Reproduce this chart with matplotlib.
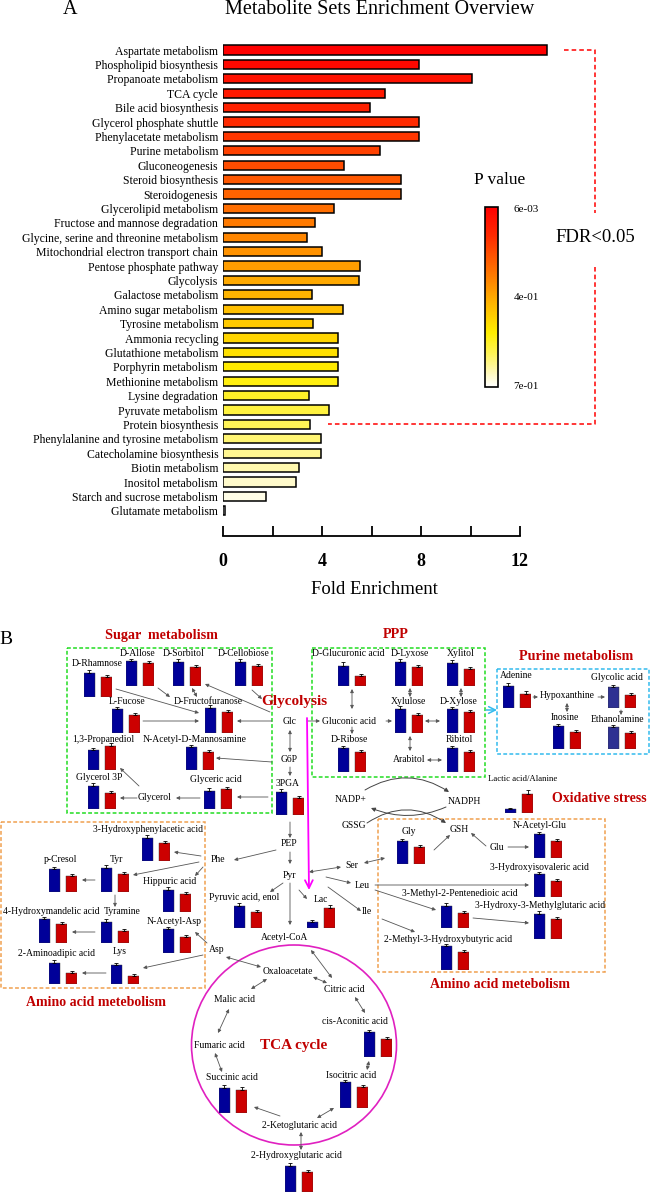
import matplotlib
matplotlib.use("Agg")
import matplotlib.pyplot as plt
from matplotlib.colors import LinearSegmentedColormap, Normalize
from matplotlib.cm import ScalarMappable
from matplotlib.patches import Rectangle, Ellipse, FancyArrowPatch

plt.rcParams["font.family"] = ["Liberation Serif", "DejaVu Serif"]

W, H = 650, 1193

# ---------------- panel A data ----------------
pathways = [
    "Aspartate metabolism", "Phospholipid biosynthesis", "Propanoate metabolism",
    "TCA cycle", "Bile acid biosynthesis", "Glycerol phosphate shuttle",
    "Phenylacetate metabolism", "Purine metabolism", "Gluconeogenesis",
    "Steroid biosynthesis", "Steroidogenesis", "Glycerolipid metabolism",
    "Fructose and mannose degradation", "Glycine, serine and threonine metabolism",
    "Mitochondrial electron transport chain", "Pentose phosphate pathway",
    "Glycolysis", "Galactose metabolism", "Amino sugar metabolism",
    "Tyrosine metabolism", "Ammonia recycling", "Glutathione metabolism",
    "Porphyrin metabolism", "Methionine metabolism", "Lysine degradation",
    "Pyruvate metabolism", "Protein biosynthesis",
    "Phenylalanine and tyrosine metabolism", "Catecholamine biosynthesis",
    "Biotin metabolism", "Inositol metabolism", "Starch and sucrose metabolism",
    "Glutamate metabolism",
]
fold = [13.1, 7.9, 10.06, 6.53, 5.92, 7.91, 7.91, 6.36, 4.88, 7.2, 7.2, 4.48,
        3.7, 3.4, 3.99, 5.55, 5.49, 3.6, 4.83, 3.62, 4.63, 4.63, 4.63, 4.63,
        3.47, 4.29, 3.53, 3.97, 3.97, 3.06, 2.96, 1.72, 0.1]
x_ticks = [0, 2, 4, 6, 8, 10, 12]
x_ticklabels = ["0", "", "4", "", "8", "", "12"]
pval_labels = ["6e-03", "4e-01", "7e-01"]
n_fdr = 27  # first 27 sets have FDR<0.05

# ---------------- panel B data (relative levels, control vs model) ----------------
mets = [
    "D-Rhamnose", "D-Allose", "D-Sorbitol", "D-Cellobiose", "L-Fucose",
    "D-Fructofuranose", "1,3-Propanediol", "N-Acetyl-D-Mannosamine",
    "Glycerol 3P", "Glyceric acid", "3PGA",
    "D-Glucuronic acid", "D-Lyxose", "Xylitol", "Xylulose", "D-Xylose",
    "D-Ribose", "Ribitol",
    "Adenine", "Glycolic acid", "Inosine", "Ethanolamine",
    "Lactic acid/Alanine",
    "Gly", "N-Acetyl-Glu", "3-Hydroxyisovaleric acid",
    "3-Methyl-2-Pentenedioic acid", "3-Hydroxy-3-Methylglutaric acid",
    "2-Methyl-3-Hydroxybutyric acid",
    "Pyruvic acid, enol", "Lac",
    "3-Hydroxyphenylacetic acid", "p-Cresol", "Tyr", "Hippuric acid",
    "Tyramine", "4-Hydroxymandelic acid", "N-Acetyl-Asp",
    "2-Aminoadipic acid", "Lys",
    "cis-Aconitic acid", "Isocitric acid", "Succinic acid",
    "2-Hydroxyglutaric acid",
]
ctrl = [24, 25, 24, 24, 24, 25, 20, 23, 23, 18, 23,
        20, 24, 23, 24, 24, 24, 24,
        22, 21, 23, 22,
        4,
        23, 24, 23, 22, 25, 24,
        22, 6,
        23, 23, 24, 22, 21, 24, 24, 21, 19,
        25, 26, 25, 26]
model = [20, 23, 19, 20, 18, 21, 24, 18, 16, 20, 17,
         10, 19, 17, 18, 21, 20, 20,
         14, 13, 17, 16,
         19,
         17, 17, 16, 15, 20, 18,
         16, 20,
         18, 16, 18, 18, 12, 19, 16, 11, 8,
         18, 21, 23, 20]
ctrl_err = [3, 2, 3, 3, 2, 3, 2, 2, 3, 3, 3,
            4, 3, 3, 3, 2, 2, 2,
            3, 2, 2, 2,
            1,
            2, 2, 2, 3, 3, 2,
            3, 2,
            3, 2, 3, 3, 3, 2, 2, 3, 2,
            2, 2, 3, 3]
model_err = [2, 2, 2, 2, 2, 2, 3, 2, 2, 2, 2,
             2, 2, 2, 2, 2, 2, 2,
             3, 2, 2, 2,
             4,
             2, 2, 2, 2, 2, 2,
             2, 3,
             2, 2, 2, 2, 2, 2, 2, 2, 2,
             2, 2, 3, 2]

# ---------------- layout (pixel positions) ----------------
bar_pos = {
    "D-Rhamnose": (84, 697), "D-Allose": (126, 686), "D-Sorbitol": (173, 686),
    "D-Cellobiose": (235, 686), "L-Fucose": (112, 733), "D-Fructofuranose": (205, 733),
    "1,3-Propanediol": (88, 770), "N-Acetyl-D-Mannosamine": (186, 770),
    "Glycerol 3P": (88, 809), "Glyceric acid": (204, 809), "3PGA": (276, 815),
    "D-Glucuronic acid": (338, 686), "D-Lyxose": (395, 686), "Xylitol": (447, 686),
    "Xylulose": (395, 733), "D-Xylose": (447, 733), "D-Ribose": (338, 772),
    "Ribitol": (447, 772),
    "Adenine": (503, 708), "Glycolic acid": (608, 708), "Inosine": (553, 749),
    "Ethanolamine": (608, 749),
    "Lactic acid/Alanine": (505, 813),
    "Gly": (397, 864), "N-Acetyl-Glu": (534, 858), "3-Hydroxyisovaleric acid": (534, 897),
    "3-Methyl-2-Pentenedioic acid": (441, 928),
    "3-Hydroxy-3-Methylglutaric acid": (534, 939),
    "2-Methyl-3-Hydroxybutyric acid": (441, 970),
    "Pyruvic acid, enol": (234, 928), "Lac": (307, 928),
    "3-Hydroxyphenylacetic acid": (142, 861), "p-Cresol": (49, 892), "Tyr": (101, 892),
    "Hippuric acid": (163, 912), "Tyramine": (101, 943),
    "4-Hydroxymandelic acid": (39, 943), "N-Acetyl-Asp": (163, 953),
    "2-Aminoadipic acid": (49, 984), "Lys": (111, 984),
    "cis-Aconitic acid": (364, 1057), "Isocitric acid": (340, 1108),
    "Succinic acid": (219, 1113), "2-Hydroxyglutaric acid": (285, 1192),
}
label_pos = {
    "D-Rhamnose": (97, 663), "D-Allose": (138, 653), "D-Sorbitol": (184, 653),
    "D-Cellobiose": (244, 653), "L-Fucose": (127, 702), "D-Fructofuranose": (208, 701),
    "1,3-Propanediol": (103, 739), "N-Acetyl-D-Mannosamine": (195, 739),
    "Glycerol 3P": (99, 778), "Glyceric acid": (216, 779), "Glycerol": (155, 798),
    "Glc": (290, 721), "G6P": (289, 760), "3PGA": (288, 783), "PEP": (289, 844),
    "Pyr": (289, 876), "Pyruvic acid, enol": (244, 897), "Lac": (321, 899),
    "Acetyl-CoA": (285, 937), "Asp": (217, 950),
    "D-Glucuronic acid": (348, 654), "D-Lyxose": (410, 654), "Xylitol": (461, 654),
    "Xylulose": (408, 701), "D-Xylose": (459, 701), "Gluconic acid": (349, 721),
    "D-Ribose": (349, 740), "Arabitol": (409, 760), "Ribitol": (459, 740),
    "Adenine": (516, 676), "Hypoxanthine": (567, 696), "Glycolic acid": (617, 678),
    "Inosine": (565, 718), "Ethanolamine": (617, 719),
    "Lactic acid/Alanine": (523, 779), "NADP+": (351, 800), "NADPH": (464, 801),
    "GSSG": (354, 826), "GSH": (459, 829),
    "Gly": (409, 832), "Glu": (497, 847), "N-Acetyl-Glu": (540, 826),
    "3-Hydroxyisovaleric acid": (539, 867), "Ser": (352, 865), "Leu": (362, 886),
    "3-Methyl-2-Pentenedioic acid": (460, 894),
    "3-Hydroxy-3-Methylglutaric acid": (540, 906), "Ile": (367, 912),
    "2-Methyl-3-Hydroxybutyric acid": (448, 939),
    "3-Hydroxyphenylacetic acid": (148, 829), "Phe": (218, 860), "p-Cresol": (61, 860),
    "Tyr": (116, 860), "Hippuric acid": (170, 881), "Tyramine": (122, 912),
    "4-Hydroxymandelic acid": (51, 911), "N-Acetyl-Asp": (174, 922),
    "2-Aminoadipic acid": (57, 953), "Lys": (120, 952),
    "Oxaloacetate": (288, 972), "Citric acid": (344, 990),
    "cis-Aconitic acid": (355, 1022), "Isocitric acid": (351, 1076),
    "2-Ketoglutaric acid": (300, 1125), "Succinic acid": (232, 1078),
    "Fumaric acid": (219, 1045), "Malic acid": (234, 1000),
    "2-Hydroxyglutaric acid": (296, 1156),
}
# (x1, y1, x2, y2, double-headed)
arrows = [
    (116, 689, 199, 713, False), (158, 688, 170, 697, False), (192, 688, 197, 697, True),
    (270, 712, 205, 684, False), (252, 690, 262, 699, False), (143, 721, 199, 721, False),
    (272, 721, 237, 721, False), (272, 762, 216, 758, False), (268, 797, 237, 797, False),
    (200, 798, 176, 798, False), (137, 798, 120, 798, False), (139, 786, 120, 768, False),
    (290, 730, 290, 752, True), (290, 767, 290, 776, False), (290, 822, 290, 838, False),
    (290, 852, 290, 864, False), (290, 883, 290, 925, False), (283, 883, 270, 892, False),
    (299, 890, 307, 899, False), (276, 850, 234, 860, False), (309, 872, 341, 867, True),
    (364, 863, 385, 858, True), (326, 877, 351, 883, False), (375, 885, 529, 885, False),
    (375, 890, 436, 910, False), (328, 887, 361, 911, False), (382, 919, 415, 932, False),
    (473, 918, 529, 923, False), (434, 850, 450, 835, False), (486, 846, 471, 833, False),
    (508, 847, 529, 847, False),
    (307, 721, 320, 721, False), (352, 689, 352, 709, True), (352, 727, 352, 734, False),
    (386, 721, 392, 721, False), (425, 721, 440, 721, True), (410, 688, 410, 697, True),
    (461, 688, 461, 697, True), (410, 736, 410, 751, True), (427, 760, 442, 760, True),
    (533, 697, 538, 697, False), (598, 697, 605, 697, False), (567, 703, 567, 712, True),
    (621, 710, 621, 715, False),
    (201, 856, 174, 852, False), (199, 862, 133, 875, False), (203, 867, 195, 876, False),
    (95, 880, 82, 880, False), (115, 895, 115, 907, False), (95, 932, 72, 932, False),
    (207, 943, 195, 932, False), (203, 955, 143, 968, False), (106, 973, 82, 973, False),
    (226, 957, 261, 967, True), (311, 950, 332, 978, True), (313, 977, 327, 983, True),
    (267, 979, 251, 989, True), (229, 1009, 218, 1033, True), (215, 1053, 222, 1072, True),
    (280, 1116, 254, 1107, False), (317, 1118, 334, 1108, True), (367, 1070, 369, 1061, True),
    (355, 997, 365, 1013, True), (301, 1132, 301, 1150, True),
]

BLUE = "#000099"
SLATE = "#2e3192"
RED = "#cc0000"
DARKRED = "#c00000"


def fr(x0, y0, x1, y1):
    return [x0 / W, 1 - y1 / H, (x1 - x0) / W, (y1 - y0) / H]


fig = plt.figure(figsize=(W / 100, H / 100), dpi=100)
bg = fig.add_axes([0, 0, 1, 1])
bg.set_xlim(0, W)
bg.set_ylim(H, 0)
bg.axis("off")

# ================= PANEL A =================
heat = LinearSegmentedColormap.from_list(
    "heat", [(0, "#ff0000"), (0.15, "#ff2800"), (0.35, "#ff7000"), (0.52, "#ffb000"),
             (0.7, "#ffee00"), (0.82, "#fff45a"), (0.92, "#fff8b8"), (1, "#ffffff")])
n = len(pathways)
colors = [heat(i / (n - 1)) for i in range(n)]

ax = fig.add_axes(fr(223, 42.8, 223 + 24.75 * 14, 536))
ax.barh(range(n), fold, height=0.65, color=colors, edgecolor="black", linewidth=1.1)
ax.set_xlim(0, 14)
ax.set_ylim(33.75, -0.5)
ax.set_yticks(range(n))
ax.set_yticklabels(pathways, fontsize=8.5)
ax.tick_params(axis="y", length=0, pad=3.5)
for s in ["top", "right", "left"]:
    ax.spines[s].set_visible(False)
ax.spines["bottom"].set_bounds(0, 12)
ax.spines["bottom"].set_linewidth(1.3)
ax.set_xticks(x_ticks)
ax.set_xticklabels(x_ticklabels, fontsize=13, fontweight="bold")
ax.tick_params(axis="x", direction="in", length=7, width=1.3, pad=12)
ax.patch.set_alpha(0)

bg.text(380, 9, "Metabolite Sets Enrichment Overview", fontsize=14.5, ha="center", va="center")
bg.text(70, 9, "A", fontsize=14.5, ha="center", va="center")
bg.text(374, 589, "Fold Enrichment", fontsize=13.5, ha="center", va="center")

# FDR bracket
kw = dict(color="#ff0000", ls=(0, (3, 2)), lw=1.1, transform=ax.transData, clip_on=False)
ax.plot([13.78, 15.03, 15.03], [0, 0, 11.3], **kw)
ax.plot([15.03, 15.03, 4.24], [15.1, n_fdr - 1, n_fdr - 1], **kw)
ax.text(15.03, 13.05, "FDR<0.05", fontsize=13.5, ha="center", va="center", clip_on=False)

# P value colorbar
cax = fig.add_axes(fr(485, 207, 498, 387))
cb = fig.colorbar(ScalarMappable(norm=Normalize(0, 1), cmap=heat.reversed()), cax=cax,
                  ticks=[0.99, 0.5, 0.01])
cb.ax.set_yticklabels(pval_labels, fontsize=8)
cb.ax.tick_params(length=0, pad=11)
cb.outline.set_linewidth(1.2)
bg.text(500, 180, "P value", fontsize=12.5, ha="center", va="center")

# ================= PANEL B =================
bg.text(6, 640, "B", fontsize=14, ha="center", va="center")

title_kw = dict(color=DARKRED, fontweight="bold", ha="center", va="center")
bg.text(161, 635, "Sugar  metabolism", fontsize=10.2, **title_kw)
bg.text(396, 635, "PPP", fontsize=10.2, **title_kw)
bg.text(576, 657, "Purine metabolism", fontsize=10.2, **title_kw)
bg.text(294, 702, "Glycolysis", fontsize=11, **title_kw)
bg.text(599, 799, "Oxidative stress", fontsize=10, **title_kw)
bg.text(96, 1002, "Amino acid metebolism", fontsize=10, **title_kw)
bg.text(500, 985, "Amino acid metebolism", fontsize=10, **title_kw)
bg.text(294, 1046, "TCA cycle", fontsize=11, **title_kw)

# dashed boxes
boxes = [((67, 648, 272, 813), "#22dd22"), ((312, 648, 485, 777), "#22dd22"),
         ((497, 669, 649, 754), "#33bbee"), ((1, 822, 205, 988), "#f0a050"),
         ((378, 819, 605, 972), "#f0a050")]
for (x0, y0, x1, y1), c in boxes:
    bg.add_patch(Rectangle((x0, y0), x1 - x0, y1 - y0, fill=False, ec=c,
                           ls=(0, (2.5, 1.5)), lw=1.1))

# TCA circle
bg.add_patch(Ellipse((294, 1045), 205, 200, fill=False, ec="#e020c0", lw=1.2))

# pathway arrows
for x1, y1, x2, y2, both in arrows:
    bg.add_patch(FancyArrowPatch((x1, y1), (x2, y2), arrowstyle="<|-|>" if both else "-|>",
                                 mutation_scale=5, lw=0.6, color="#555555",
                                 shrinkA=0, shrinkB=0))

# glycolysis -> lactate and PPP -> purine
bg.add_patch(FancyArrowPatch((307, 718), (309, 890), arrowstyle="->", mutation_scale=14,
                             lw=1.3, color="#ff00ff", shrinkA=0, shrinkB=0))
bg.add_patch(FancyArrowPatch((486, 710), (497, 710), arrowstyle="->", mutation_scale=12,
                             lw=1.1, color="#33bbee", shrinkA=0, shrinkB=0))

# NADP+/NADPH and GSSG/GSH curves
for a, b, rad in [((365, 790), (449, 792), -0.31), ((446, 807), (371, 808), -0.21),
                  ((367, 823), (446, 823), -0.33)]:
    bg.add_patch(FancyArrowPatch(a, b, connectionstyle=f"arc3,rad={rad}", arrowstyle="-|>",
                                 mutation_scale=6, lw=0.7, color="#444444",
                                 shrinkA=0, shrinkB=0))

# metabolite labels
for name, (x, y) in label_pos.items():
    fs = 6.3 if name == "Lactic acid/Alanine" else 6.9
    bg.text(x, y, name, fontsize=fs, ha="center", va="center")

# small bar charts
for i, name in enumerate(mets):
    x, y = bar_pos[name]
    blue = SLATE if name in ("Glycolic acid", "Ethanolamine") else BLUE
    a = fig.add_axes(fr(x, y - 32, x + 28, y))
    a.bar([0, 1], [ctrl[i], model[i]], width=0.62, color=[blue, RED],
          edgecolor="#333333", linewidth=0.3)
    a.errorbar([0, 1], [ctrl[i], model[i]], yerr=[[0, 0], [ctrl_err[i], model_err[i]]],
               fmt="none", ecolor="black", elinewidth=0.6, capsize=1.2, capthick=0.6)
    a.set_xlim(-0.31, 1.31)
    a.set_ylim(0, 32)
    a.axis("off")

fig.savefig("out.png", dpi=100)
